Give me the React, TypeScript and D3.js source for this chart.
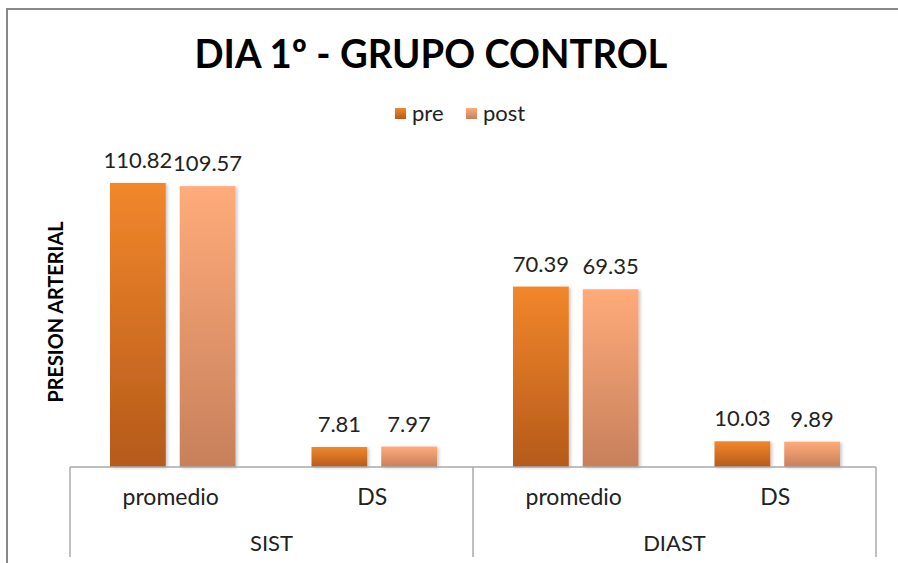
import * as d3 from "d3";
import React from "react";

const groups = ["SIST", "DIAST"];
const stats = ["promedio", "DS"];
const series = ["pre", "post"];
const preValues = [110.82, 7.81, 70.39, 10.03];
const postValues = [109.57, 7.97, 69.35, 9.89];

const W = 898;
const H = 563;
const left = 70;
const right = 876;
const base = 467;

const cats = groups.flatMap((g) => stats.map((s) => `${g}|${s}`));

const x0 = d3.scaleBand<string>().domain(cats).range([left, right]).paddingInner(0).paddingOuter(0);
const x1 = d3.scaleBand<string>().domain(series).range([40, x0.bandwidth() - 36]).paddingInner(0.2);
const gx = d3.scaleBand<string>().domain(groups).range([left, right]);
const y = d3.scaleLinear().domain([0, 120]).range([base, base - 120 * 2.563]);

const font = "Lato, 'Open Sans', sans-serif";
const fills = { pre: "url(#gPre)", post: "url(#gPost)" } as Record<string, string>;

export default function App() {
  const rows = cats.map((c, i) => ({ c, pre: preValues[i], post: postValues[i] }));
  return (
    <svg width={W} height={H} style={{ position: "absolute", left: 0, top: 0, background: "#fff" }}>
      <defs>
        <linearGradient id="gPre" x1="0" y1="0" x2="0" y2="1">
          <stop offset="0" stopColor="#f2872b" />
          <stop offset="1" stopColor="#b55a1b" />
        </linearGradient>
        <linearGradient id="gPost" x1="0" y1="0" x2="0" y2="1">
          <stop offset="0" stopColor="#ffab7a" />
          <stop offset="1" stopColor="#c7805b" />
        </linearGradient>
        <filter id="sh" x="-20%" y="-20%" width="140%" height="140%">
          <feDropShadow dx="2" dy="1" stdDeviation="1.5" floodColor="#000" floodOpacity="0.2" />
        </filter>
      </defs>
      {/* outer frame */}
      <path d={`M7,${H} V9 H${W}`} fill="none" stroke="#888" strokeWidth={2} />

      <text x={431} y={68} textAnchor="middle" textLength={473} lengthAdjust="spacingAndGlyphs"
        fontFamily={font} fontWeight="bold" fontSize={40} fill="#000">
        DIA 1º - GRUPO CONTROL
      </text>

      {/* legend */}
      {series.map((s, i) => (
        <g key={s} transform={`translate(${i === 0 ? 395 : 466},0)`}>
          <rect x={0} y={108} width={11} height={11} fill={fills[s]} />
          <text x={17} y={121} fontFamily={font} fontSize={22} fill="#222">{s}</text>
        </g>
      ))}

      <text transform={`translate(63,${312}) rotate(-90)`} textAnchor="middle" textLength={181} lengthAdjust="spacingAndGlyphs"
        fontFamily={font} fontWeight="bold" fontSize={20} fill="#000">
        PRESION ARTERIAL
      </text>

      {rows.map((r) => (
        <g key={r.c} transform={`translate(${x0(r.c)},0)`}>
          {series.map((s) => {
            const v = (r as any)[s] as number;
            return (
              <g key={s}>
                <rect x={x1(s)} y={y(v)} width={x1.bandwidth()} height={base - y(v)} fill={fills[s]} filter="url(#sh)" />
                <text x={(x1(s) ?? 0) + x1.bandwidth() / 2} y={y(v) - 15} textAnchor="middle" fontFamily={font} fontSize={22} fill="#222">
                  {v.toFixed(2)}
                </text>
              </g>
            );
          })}
          <text x={x0.bandwidth() / 2} y={505} textAnchor="middle" fontFamily={font} fontSize={23} fill="#222">
            {r.c.split("|")[1]}
          </text>
        </g>
      ))}

      {/* category axis */}
      <line x1={left} x2={right} y1={base} y2={base} stroke="#aaa" strokeWidth={1.5} />
      {[left, gx("DIAST") ?? 0, right].map((xv, i) => (
        <line key={i} x1={xv} x2={xv} y1={base} y2={557} stroke="#aaa" strokeWidth={1.5} />
      ))}
      {groups.map((g) => (
        <text key={g} x={(gx(g) ?? 0) + gx.bandwidth() / 2} y={551} textAnchor="middle" fontFamily={font} fontSize={22} fill="#222">
          {g}
        </text>
      ))}
    </svg>
  );
}
